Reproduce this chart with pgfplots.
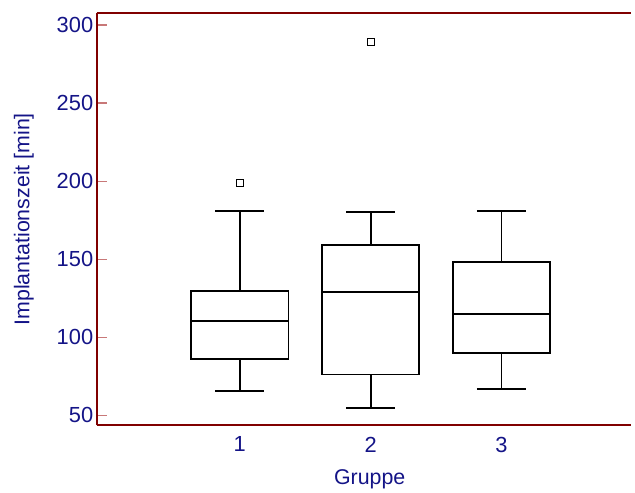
\documentclass[border=0pt]{standalone}
\usepackage{fontspec}
\setmainfont{Liberation Sans}
\usepackage{pgfplots}
\pgfplotsset{compat=1.18}
\usepgfplotslibrary{statistics}
\definecolor{navytext}{RGB}{20,20,135}
\definecolor{framec}{RGB}{128,0,0}
\definecolor{tickc}{RGB}{200,120,120}

\begin{document}
\begin{tikzpicture}
\useasboundingbox (-97bp,-67.3bp) rectangle (540bp,426.7bp);
\begin{axis}[
 at={(0,0)}, anchor=south west,
 scale only axis, width=536bp, height=413.4bp,
 xmin=-0.093, xmax=3.99, ymin=43.6, ymax=307.5,
 separate axis lines, axis x line*=bottom, axis y line*=left,
 axis line style={draw=none},
 xtick={1,2,3}, ytick={50,100,...,300},
 x tick style={draw=none},
 y tick style={draw=tickc, line width=1.2bp},
 tick align=inside, major tick length=10bp,
 tick label style={font=\fontsize{22}{26}\selectfont, text=navytext},
 xticklabel style={yshift=-8bp},
 /pgf/number format/assume math mode=true,
 label style={font=\fontsize{21.5}{26}\selectfont, text=navytext},
 xlabel={Gruppe}, ylabel={Implantationszeit [min]},
 xlabel style={at={(rel axis cs:0.511,-0.1300)}, anchor=center},
 ylabel style={at={(rel axis cs:-0.1362,0.5)}, anchor=center},
 boxplot/draw direction=y,
 clip=false,
]
\addplot[black, line width=1.9bp, mark=square*, mark size=3.5bp, mark options={fill=white, draw=black, line width=0.8bp},
  boxplot prepared={draw position=1, lower whisker=65.8, lower quartile=86.2, median=110.7, upper quartile=129.4, upper whisker=180.6, box extend=0.746, whisker extend=0.375,
  every median/.style={line width=1.9bp}, every whisker/.style={line width=1.9bp}, every box/.style={line width=1.9bp}}]
  coordinates {(0,199)};
\addplot[black, line width=1.9bp, mark=square*, mark size=3.5bp, mark options={fill=white, draw=black, line width=0.8bp},
  boxplot prepared={draw position=2, lower whisker=54.7, lower quartile=76.2, median=129.2, upper quartile=159.2, upper whisker=180.2, box extend=0.746, whisker extend=0.375,
  every median/.style={line width=1.9bp}, every whisker/.style={line width=1.9bp}, every box/.style={line width=1.9bp}}]
  coordinates {(0,289)};
\addplot[black, line width=1.9bp, mark=square*, mark size=3.5bp, mark options={fill=white, draw=black, line width=0.8bp},
  boxplot prepared={draw position=3, lower whisker=66.9, lower quartile=90.2, median=114.7, upper quartile=148, upper whisker=180.8, box extend=0.746, whisker extend=0.375,
  every median/.style={line width=1.9bp}, every whisker/.style={line width=1.9bp}, every box/.style={line width=1.9bp}}]
  coordinates {};
\draw[framec, line width=2bp] (rel axis cs:0,1) -- (rel axis cs:1,1);
\draw[framec, line width=2bp] (rel axis cs:0,0) -- (rel axis cs:0,1);
\draw[framec, line width=2bp] (rel axis cs:0,0) -- (rel axis cs:1,0);
\end{axis}
\end{tikzpicture}
\end{document}
